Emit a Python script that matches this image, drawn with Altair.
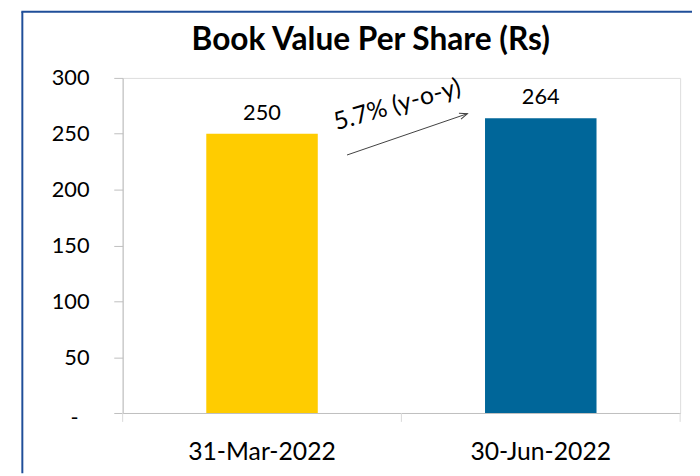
import altair as alt
import pandas as pd

# ---- data ----
dates = ["31-Mar-2022", "30-Jun-2022"]
book_value = [250, 264]
bar_colors = ["#FFCC00", "#006699"]
y_ticks = [0, 50, 100, 150, 200, 250, 300]
title_text = "Book Value Per Share (Rs)"
growth_label = ["5.7% (y-o-y)"]
# annotation anchors: x in category units (0..2), y in value units
arrow_x = [0.805]
arrow_x2 = [1.237]
arrow_y = [231]
arrow_y2 = [268]
label_x = [0.985]
label_y = [276]
boundaries = [0, 1, 2]

W, H = 564, 339
FONT = "Lato"
AXIS_GRAY = "#BFBFBF"

bars_df = pd.DataFrame({"date": dates, "value": book_value})
arrow_df = pd.DataFrame({"x": arrow_x, "x2": arrow_x2, "value": arrow_y, "value2": arrow_y2})
head_df = pd.DataFrame({"x": arrow_x2, "value": arrow_y2})
label_df = pd.DataFrame({"x": label_x, "value": label_y, "t": growth_label})
bound_df = pd.DataFrame({"x": boundaries})
one = pd.DataFrame({"a": [0]})

band_scale = alt.Scale(domain=dates, paddingInner=0.6, paddingOuter=0.3)
y_scale = alt.Scale(domain=[0, 300], nice=False)

x_band = alt.X(
    "date:N", sort=dates, scale=band_scale,
    axis=alt.Axis(title=None, labelAngle=0, ticks=False, domainColor=AXIS_GRAY,
                  labelFontSize=25, labelFont=FONT, labelPadding=27, labelColor="black"),
)
y_lin = alt.Y(
    "value:Q", scale=y_scale,
    axis=alt.Axis(title=None, values=y_ticks, grid=False, tickSize=9, tickColor=AXIS_GRAY,
                  domainColor=AXIS_GRAY, labelFontSize=22, labelFont=FONT,
                  labelPadding={"condition": {"test": "datum.value == 0", "value": 36}, "value": 25},
                  labelOffset={"condition": {"test": "datum.value == 0", "value": 5}, "value": 0},
                  labelColor="black",
                  labelExpr="datum.value == 0 ? '-' : datum.label"),
)

bars = alt.Chart(bars_df).mark_bar().encode(
    x=x_band, y=y_lin,
    color=alt.Color("date:N", scale=alt.Scale(domain=dates, range=bar_colors), legend=None),
)
values = alt.Chart(bars_df).mark_text(
    dy=-14, baseline="alphabetic", fontSize=22, font=FONT, color="black"
).encode(x=alt.X("date:N", sort=dates, scale=band_scale), y=alt.Y("value:Q", title=None), text="value:Q")

main = alt.layer(bars, values)

xq = alt.Scale(domain=[0, 2], nice=False, zero=False)

arrow = alt.Chart(arrow_df).mark_rule(color="#404040", strokeWidth=1).encode(
    x=alt.X("x:Q", scale=xq, axis=None), x2="x2:Q",
    y=alt.Y("value:Q", title=None), y2="value2:Q",
)
head = alt.Chart(head_df).mark_point(
    shape="M-1,-0.4L0,0L-1,0.4", filled=False, size=256, angle=341,
    color="#404040", strokeWidth=1, opacity=1,
).encode(x=alt.X("x:Q", scale=xq, axis=None), y=alt.Y("value:Q", title=None))
growth = alt.Chart(label_df).mark_text(
    angle=344, fontSize=25, font=FONT, color="black", align="center", baseline="middle"
).encode(x=alt.X("x:Q", scale=xq, axis=None), y=alt.Y("value:Q", title=None), text="t:N")
bticks = alt.Chart(bound_df).mark_rule(color="#D9D9D9").encode(
    x=alt.X("x:Q", scale=xq, axis=None), y=alt.value(H), y2=alt.value(H + 9)
)
annot = alt.layer(arrow, head, growth, bticks)

BORDER = "#1F4E99"
left_border = alt.Chart(one).mark_rule(color=BORDER, strokeWidth=2).encode(
    x=alt.value(-101.5), y=alt.value(-67), y2=alt.value(H + 61)
)
top_border = alt.Chart(one).mark_rule(color=BORDER, strokeWidth=2).encode(
    x=alt.value(-102.5), x2=alt.value(W + 12), y=alt.value(-67)
)

chart = alt.layer(main, annot, left_border, top_border).resolve_scale(x="independent").properties(
    width=W, height=H,
    autosize=alt.AutoSizeParams(type="none"),
    padding={"left": 116, "top": 68, "right": 12, "bottom": 61},
    title=alt.TitleParams(title_text, font=FONT, fontSize=32, fontWeight="bold", color="black",
                          anchor="middle", frame="group", dx=-31, offset=-72, baseline="alphabetic"),
).configure_view(stroke=None).configure(background="white")

chart.save("out.html", embed_options={"renderer": "svg", "actions": False})
